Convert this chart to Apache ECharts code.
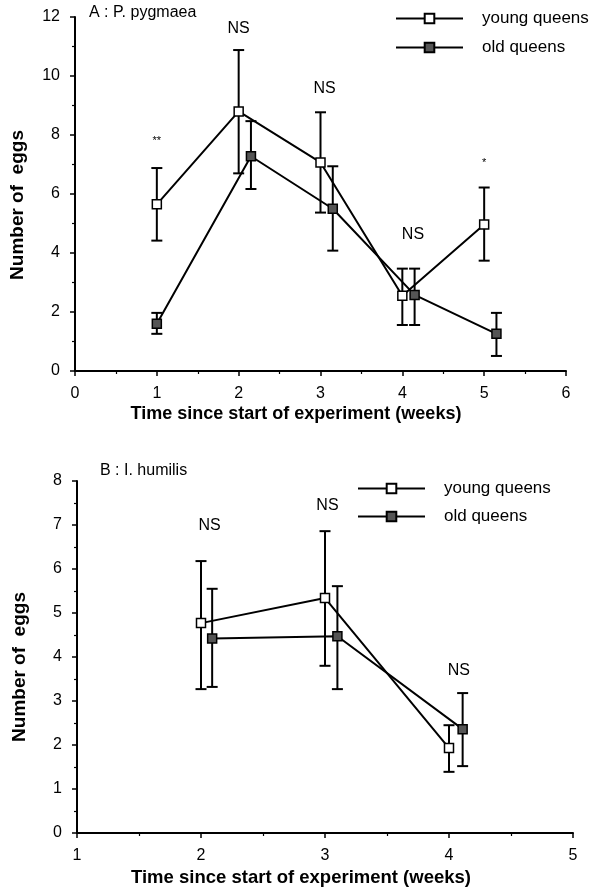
<!DOCTYPE html>
<html><head><meta charset="utf-8">
<script src="https://cdn.jsdelivr.net/npm/echarts@6/dist/echarts.min.js"></script>
<style>html,body{margin:0;padding:0;background:#fff}#c{width:590px;height:890px}</style>
</head><body><div id="c"></div>
<script>
// Panel A : P. pygmaea
const xYoungA = [1, 2, 3, 4, 5];
const meanYoungA = [5.65, 8.8, 7.07, 2.55, 4.97];
const lowYoungA = [4.42, 6.7, 5.37, 1.56, 3.74];
const highYoungA = [6.88, 10.88, 8.77, 3.47, 6.22];
const xOldA = [1, 2.15, 3.15, 4.15, 5.15];
const meanOldA = [1.6, 7.28, 5.5, 2.58, 1.26];
const lowOldA = [1.26, 6.17, 4.08, 1.56, 0.51];
const highOldA = [1.97, 8.47, 6.94, 3.47, 1.97];
const annXA = [1, 2, 3.05, 4.13, 5];
const annYA = [7.8, 11.6, 9.56, 4.63, 7.04];
const annTA = ['**', 'NS', 'NS', 'NS', '*'];
const xTicksA = [0, 1, 2, 3, 4, 5, 6];
const yTicksA = [0, 2, 4, 6, 8, 10, 12];

// Panel B : I. humilis
const xYoungB = [2, 3, 4];
const meanYoungB = [4.77, 5.34, 1.93];
const lowYoungB = [3.27, 3.8, 1.39];
const highYoungB = [6.18, 6.86, 2.45];
const xOldB = [2.09, 3.1, 4.11];
const meanOldB = [4.42, 4.47, 2.36];
const lowOldB = [3.32, 3.27, 1.52];
const highOldB = [5.55, 5.61, 3.18];
const annXB = [2.07, 3.02, 4.08];
const annYB = [6.98, 7.43, 3.7];
const annTB = ['NS', 'NS', 'NS'];
const xTicksB = [1, 2, 3, 4, 5];
const yTicksB = [0, 1, 2, 3, 4, 5, 6, 7, 8];

const seriesNames = ['young queens', 'old queens'];
const FONT = "'Liberation Sans', Arial, sans-serif";

const zip2 = (a, b) => a.map((v, i) => [v, b[i]]);
const zip3 = (a, b, c) => a.map((v, i) => [v, b[i], c[i]]);

function errRender(params, api) {
  const x = api.value(0), lo = api.value(1), hi = api.value(2);
  const p1 = api.coord([x, lo]), p2 = api.coord([x, hi]);
  const w = 5.5;
  const st = { stroke: '#000', lineWidth: 2 };
  return { type: 'group', children: [
    { type: 'line', shape: { x1: p1[0], y1: p1[1], x2: p2[0], y2: p2[1] }, style: st },
    { type: 'line', shape: { x1: p1[0] - w, y1: p1[1], x2: p1[0] + w, y2: p1[1] }, style: st },
    { type: 'line', shape: { x1: p2[0] - w, y1: p2[1], x2: p2[0] + w, y2: p2[1] }, style: st }
  ]};
}

function axisCommon(min, max, interval) {
  return {
    type: 'value', min: min, max: max, interval: interval,
    splitLine: { show: false },
    axisLine: { show: true, onZero: false, lineStyle: { color: '#000', width: 2 } },
    axisTick: { show: true, length: 5, lineStyle: { color: '#000', width: 1.5 } },
    minorTick: { show: true, splitNumber: 2, length: 3, lineStyle: { color: '#000', width: 1.2 } },
    axisLabel: { color: '#000', fontSize: 16, fontFamily: FONT, margin: 15 }
  };
}

function lineSeries(name, xs, ys, gi, filled) {
  return {
    name: name, type: 'line', xAxisIndex: gi, yAxisIndex: gi,
    data: zip2(xs, ys), symbol: 'rect', symbolSize: 9, showAllSymbol: true,
    lineStyle: { color: '#000', width: 2 },
    itemStyle: { color: filled ? '#555' : '#fff', borderColor: '#000', borderWidth: 1.5 },
    z: 3, animation: false
  };
}
function errSeries(xs, lo, hi, gi) {
  return { type: 'custom', xAxisIndex: gi, yAxisIndex: gi, data: zip3(xs, lo, hi),
    renderItem: errRender, z: 2, animation: false, encode: { x: 0, y: [1, 2] } };
}
function annSeries(xs, ys, ts, gi) {
  return { type: 'scatter', xAxisIndex: gi, yAxisIndex: gi, symbolSize: 0,
    itemStyle: { opacity: 1 },
    data: xs.map((x, i) => ({ value: [x, ys[i]], name: ts[i],
      label: { fontSize: ts[i] === 'NS' ? 16 : 11, color: '#000' } })),
    label: { show: true, position: 'inside', formatter: p => p.name, color: '#000', fontFamily: FONT },
    silent: true, animation: false, z: 4 };
}

const legendText = { fontSize: 17, fontFamily: FONT, color: '#000', padding: [0, 0, 0, 14] };

const chart = echarts.init(document.getElementById('c'));
chart.setOption({
  backgroundColor: '#fff',
  animation: false,
  grid: [
    { left: 75, right: 24, top: 17, height: 354 },
    { left: 77, right: 17, top: 481, height: 352 }
  ],
  xAxis: [
    Object.assign(axisCommon(xTicksA[0], xTicksA[xTicksA.length - 1], 1), { gridIndex: 0 }),
    Object.assign(axisCommon(xTicksB[0], xTicksB[xTicksB.length - 1], 1), { gridIndex: 1 })
  ],
  yAxis: [
    Object.assign(axisCommon(yTicksA[0], yTicksA[yTicksA.length - 1], 2), { gridIndex: 0 }),
    Object.assign(axisCommon(yTicksB[0], yTicksB[yTicksB.length - 1], 1), { gridIndex: 1 })
  ],
  legend: [
    { orient: 'vertical', left: 395, top: 10, padding: 0, itemWidth: 67, itemHeight: 12, itemGap: 12,
      data: seriesNames, selectedMode: false, textStyle: legendText },
    { orient: 'vertical', left: 357, top: 480, padding: 0, itemWidth: 67, itemHeight: 12, itemGap: 11,
      data: seriesNames, selectedMode: false, textStyle: legendText }
  ],
  graphic: [
    { type: 'text', left: 89, top: 5, style: { text: 'A : P. pygmaea', font: '16px ' + FONT, fill: '#000' } },
    { type: 'text', left: 100, top: 463, style: { text: 'B : I. humilis', font: '16px ' + FONT, fill: '#000' } },
    { type: 'text', x: 296, y: 414, style: { text: 'Time since start of experiment (weeks)', font: 'bold 18px ' + FONT, fill: '#000', align: 'center', verticalAlign: 'middle' } },
    { type: 'text', x: 301, y: 878, style: { text: 'Time since start of experiment (weeks)', font: 'bold 18.5px ' + FONT, fill: '#000', align: 'center', verticalAlign: 'middle' } },
    { type: 'text', x: 18, y: 205, rotation: Math.PI / 2, style: { text: 'Number of  eggs', font: 'bold 19px ' + FONT, fill: '#000', align: 'center', verticalAlign: 'middle' } },
    { type: 'text', x: 20, y: 667, rotation: Math.PI / 2, style: { text: 'Number of  eggs', font: 'bold 19px ' + FONT, fill: '#000', align: 'center', verticalAlign: 'middle' } }
  ],
  series: [
    errSeries(xYoungA, lowYoungA, highYoungA, 0),
    errSeries(xOldA, lowOldA, highOldA, 0),
    lineSeries(seriesNames[0], xYoungA, meanYoungA, 0, false),
    lineSeries(seriesNames[1], xOldA, meanOldA, 0, true),
    annSeries(annXA, annYA, annTA, 0),
    errSeries(xYoungB, lowYoungB, highYoungB, 1),
    errSeries(xOldB, lowOldB, highOldB, 1),
    lineSeries(seriesNames[0], xYoungB, meanYoungB, 1, false),
    lineSeries(seriesNames[1], xOldB, meanOldB, 1, true),
    annSeries(annXB, annYB, annTB, 1)
  ]
});
</script></body></html>
